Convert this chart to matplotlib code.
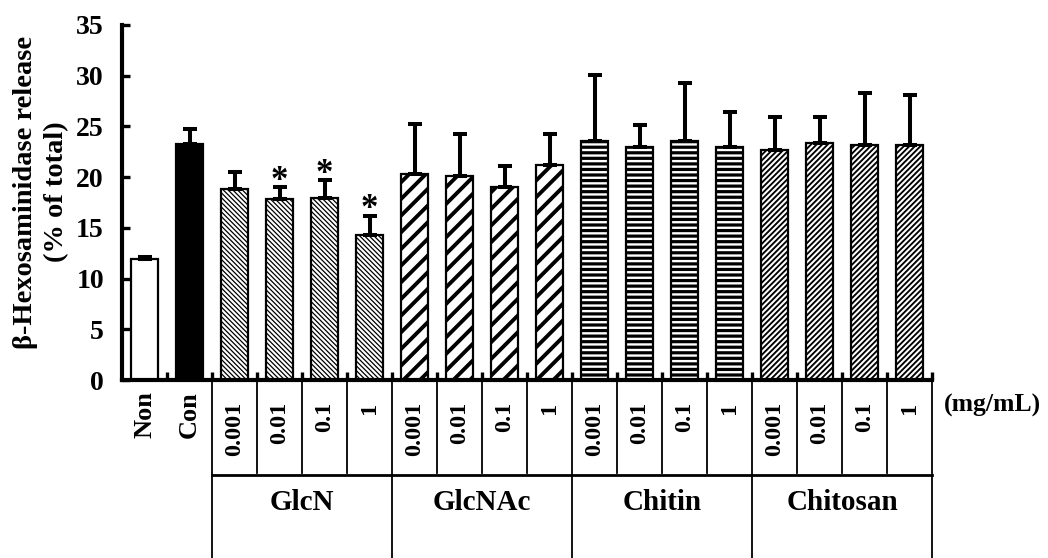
import numpy as np
import matplotlib
matplotlib.use("Agg")
import matplotlib.pyplot as plt
from matplotlib.transforms import blended_transform_factory

plt.rcParams['font.family'] = ['Liberation Serif', 'DejaVu Serif']
plt.rcParams['font.weight'] = 'bold'

# ---- data ----
controls = ['Non', 'Con']
groups = ['GlcN', 'GlcNAc', 'Chitin', 'Chitosan']
concentrations = ['0.001', '0.01', '0.1', '1']
control_values = [11.9, 23.3]
control_errors = [0.2, 1.4]
glcn_values = [18.8, 17.8, 17.9, 14.3]
glcn_errors = [1.7, 1.2, 1.8, 1.9]
glcnac_values = [20.3, 20.1, 19.0, 21.2]
glcnac_errors = [4.9, 4.2, 2.1, 3.1]
chitin_values = [23.6, 23.0, 23.6, 23.0]
chitin_errors = [6.5, 2.1, 5.7, 3.4]
chitosan_values = [22.7, 23.4, 23.2, 23.2]
chitosan_errors = [3.2, 2.5, 5.1, 4.9]
significant = [False, False, False, True, True, True] + [False] * 12
unit_label = '(mg/mL)'
y_label = 'β-Hexosaminidase release\n(% of total)'
y_ticks = [0, 5, 10, 15, 20, 25, 30, 35]

values = control_values + glcn_values + glcnac_values + chitin_values + chitosan_values
errors = control_errors + glcn_errors + glcnac_errors + chitin_errors + chitosan_errors
n = len(values)
xpos = np.arange(n) + 0.5

W, H = 1048, 558
fig = plt.figure(figsize=(W / 100, H / 100), dpi=100)
ax = fig.add_axes([122 / W, 1 - 380 / H, (932 - 122) / W, (380 - 25) / H])

def fy(px):
    return 1 - px / H

# bar styles
styles = [
    dict(facecolor='white', hatch=None, hlw=1.0),
    dict(facecolor='black', hatch=None, hlw=1.0),
]
group_styles = [
    dict(facecolor='white', hatch='\\' * 7, hlw=0.9),
    dict(facecolor='white', hatch='//', hlw=2.8),
    dict(facecolor='white', hatch='---', hlw=2.3),
    dict(facecolor='white', hatch='/' * 6, hlw=1.35),
]
for gs in group_styles:
    styles += [gs] * len(concentrations)

for i in range(n):
    st = styles[i]
    with plt.rc_context({'hatch.linewidth': st['hlw']}):
        bars = ax.bar(xpos[i], values[i], width=0.62, color=st['facecolor'],
                      edgecolor='black', linewidth=1.6, hatch=st['hatch'], zorder=2)
    for b in bars:
        if hasattr(b, 'set_hatch_linewidth'):
            b.set_hatch_linewidth(st['hlw'])

ax.errorbar(xpos, values, yerr=[np.zeros(n), errors], fmt='none', ecolor='black',
            elinewidth=2.9, capsize=5, capthick=2.9, zorder=3)

for i in range(n):
    if significant[i]:
        ax.text(xpos[i], values[i] + errors[i] - 0.25, '*', ha='center', va='baseline',
                fontsize=25, fontweight='bold', zorder=4)

ax.set_xlim(0, n)
ax.set_ylim(0, 35)
for s in ['top', 'right']:
    ax.spines[s].set_visible(False)
ax.spines['left'].set_linewidth(3)
ax.spines['bottom'].set_linewidth(3)
ax.set_yticks(y_ticks)
ax.set_yticklabels([str(t) for t in y_ticks])
ax.tick_params(axis='y', direction='in', length=6, width=2.4, labelsize=20, pad=13)
ax.set_xticks(np.arange(1, n + 1))
ax.set_xticklabels([])
ax.tick_params(axis='x', direction='in', length=5.5, width=2.4)

trans = blended_transform_factory(ax.transData, fig.transFigure)

# category labels
for i, lab in enumerate(controls):
    ax.text(xpos[i], fy(391), lab, rotation=90, ha='center', va='top',
            fontsize=19, transform=trans)
nc = len(controls)
for g, gname in enumerate(groups):
    for j, c in enumerate(concentrations):
        k = nc + g * len(concentrations) + j
        ax.text(xpos[k], fy(402), c, rotation=90, ha='center', va='top',
                fontsize=17.5, transform=trans)
    start = nc + g * len(concentrations)
    end = start + len(concentrations)
    ax.text((start + end) / 2, fy(502), gname, ha='center', va='center',
            fontsize=21, transform=trans)
    ax.plot([start, start], [fy(380), fy(558)], color='black', lw=1.3,
            transform=trans, clip_on=False)
    for j in range(1, len(concentrations)):
        ax.plot([start + j, start + j], [fy(380), fy(473)], color='black', lw=1.3,
                transform=trans, clip_on=False)
ax.plot([n, n], [fy(380), fy(558)], color='black', lw=1.3, transform=trans, clip_on=False)
ax.plot([nc, n], [fy(475), fy(475)], color='black', lw=2.0, transform=trans, clip_on=False)

fig.text(944 / W, fy(405), unit_label, ha='left', va='center', fontsize=18.5)
fig.text(41 / W, fy(192), y_label, rotation=90, ha='center', va='center',
         fontsize=20.5, linespacing=1.3, multialignment='center')

fig.savefig('out.png', dpi=100)
